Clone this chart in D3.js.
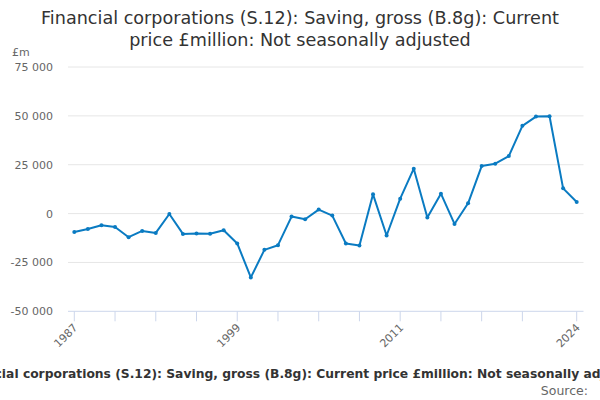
<!DOCTYPE html>
<html><head><meta charset="utf-8">
<script src="https://cdn.jsdelivr.net/npm/d3@7"></script>
<style>body{margin:0;background:#fff;}svg{display:block;font-family:"DejaVu Sans",sans-serif;}</style>
</head><body>
<svg id="c" width="600" height="400"></svg>
<script>
const years = d3.range(1987, 2025);
const values = [-9400,-7850,-5970,-6830,-12090,-8870,-9900,-200,-10400,-10200,-10300,-8520,-15300,-32650,-18570,-16170,-1530,-2910,2040,-1020,-15300,-16330,9850,-11220,7650,22960,-2040,10200,-5300,5250,24290,25500,29400,44900,49640,49800,12900,5900];
const yTicks = [-50000,-25000,0,25000,50000,75000];
const xTicks = [1987,1990,1993,1996,1999,2002,2005,2008,2011,2014,2017,2020,2024];
const xLabels = [1987,1999,2011,2024];
const titleLines = ["Financial corporations (S.12): Saving, gross (B.8g): Current","price £million: Not seasonally adjusted"];
const seriesName = "Financial corporations (S.12): Saving, gross (B.8g): Current price £million: Not seasonally adjusted";

const svg = d3.select("#c");
const L = 68, R = 583.5, T = 67, B = 311.3;
const x = d3.scaleLinear().domain([1987, 2024]).range([74.3, 576.7]);
const y = d3.scaleLinear().domain([-50000, 75000]).range([B, T]);
const fmt = v => d3.format(",")(v).replace(/,/g, " ").replace("−","-");

// title
svg.append("g").selectAll("text").data(titleLines).join("text")
  .attr("x", 300).attr("y", (d,i) => 24 + i*22)
  .attr("text-anchor","middle").attr("font-size", 17.6).attr("fill","#333")
  .text(d => d);

svg.append("text").attr("x", 12).attr("y", 56).attr("font-size", 11).attr("fill","#666").text("£m");

// grid
svg.append("g").selectAll("line").data(yTicks.filter(d => d !== -50000)).join("line")
  .attr("x1", L).attr("x2", R).attr("y1", d => y(d)).attr("y2", d => y(d))
  .attr("stroke","#e6e6e6").attr("stroke-width",1);

// y labels
svg.append("g").selectAll("text").data(yTicks).join("text")
  .attr("x", 53).attr("y", d => y(d) + 4)
  .attr("text-anchor","end").attr("font-size", 11).attr("fill","#666")
  .text(d => fmt(d));

// x axis
svg.append("line").attr("x1", L).attr("x2", R).attr("y1", B).attr("y2", B).attr("stroke","#ccd6eb");
svg.append("g").selectAll("line").data(xTicks).join("line")
  .attr("x1", d => x(d)).attr("x2", d => x(d)).attr("y1", B).attr("y2", B + 10)
  .attr("stroke","#ccd6eb");
svg.append("g").selectAll("text").data(xLabels).join("text")
  .attr("transform", d => `translate(${x(d)+4},${B+17}) rotate(-45)`)
  .attr("text-anchor","end").attr("font-size", 11).attr("fill","#666")
  .text(d => d);

// line
const line = d3.line().x((d,i) => x(years[i])).y(d => y(d));
svg.append("path").datum(values).attr("d", line)
  .attr("fill","none").attr("stroke","#0a7bc2").attr("stroke-width",2).attr("stroke-linejoin","round");
svg.append("g").selectAll("circle").data(values).join("circle")
  .attr("cx", (d,i) => x(years[i])).attr("cy", d => y(d)).attr("r", 2)
  .attr("fill","#0a7bc2");

// legend
svg.append("text").attr("x", 300).attr("y", 377.5).attr("text-anchor","middle")
  .attr("font-size", 12.3).attr("font-weight","bold").attr("fill","#333").text(seriesName);
svg.append("text").attr("x", 588).attr("y", 395).attr("text-anchor","end")
  .attr("font-size", 12.5).attr("fill","#666").text("Source:");
</script>
</body></html>
